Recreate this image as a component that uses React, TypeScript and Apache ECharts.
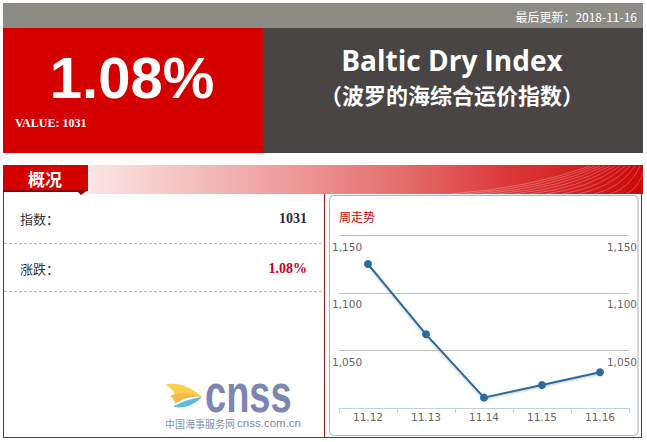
import React, { useEffect, useRef } from "react";
import * as echarts from "echarts";

const categories = ["11.12", "11.13", "11.14", "11.15", "11.16"];
const values = [1125, 1064, 1009, 1020, 1031];
const yMin = 1000;
const yMax = 1150;
const yStep = 50;
const updateText = "最后更新：2018-11-16";
const changeText = "1.08%";
const indexValue = "1031";

echarts.graphic.registerShape(
  "swooshTop",
  echarts.graphic.extendPath("M0,3 C10,-1 26,4 37,15 C28,11 18,10 10,13 C9,9 5,5 0,3 Z", {})
);
echarts.graphic.registerShape(
  "swooshMid",
  echarts.graphic.extendPath("M5,14 C16,9 28,11 37,15 C28,14 18,16 10,22 C10,19 8,16 5,14 Z", {})
);
echarts.graphic.registerShape(
  "swooshLow",
  echarts.graphic.extendPath("M9,24 C20,18 30,16 37,15 C30,22 20,27 9,25 Z", {})
);

const cjk = '"Noto Sans CJK SC", sans-serif';

export default function App() {
  const ref = useRef<HTMLDivElement>(null);
  useEffect(() => {
    if (!ref.current) return;
    const chart = echarts.init(ref.current, null, { renderer: "svg" });
    const stripes: any[] = [];
    for (let i = 0; i < 12; i++) {
      stripes.push({
        type: "bezierCurve",
        silent: true,
        shape: {
          x1: 450 + i * 16,
          y1: 194,
          cpx1: 530 + i * 10,
          cpy1: 188,
          x2: 590 + i * 5,
          y2: 166,
        },
        style: { stroke: "rgba(255,255,255,0.3)", lineWidth: 0.8, fill: null },
      });
    }
    const option: any = {
      animation: false,
      backgroundColor: "#ffffff",
      graphic: {
        elements: [
          { type: "rect", shape: { x: 3, y: 3, width: 640, height: 25 }, style: { fill: "#8c8b86" } },
          {
            type: "text",
            x: 637,
            y: 16,
            style: { text: updateText, fill: "#ffffff", font: `12px ${cjk}`, textAlign: "right", textVerticalAlign: "middle" },
          },
          { type: "rect", shape: { x: 3, y: 28, width: 260, height: 125 }, style: { fill: "#d40000" } },
          { type: "rect", shape: { x: 263, y: 28, width: 380, height: 125 }, style: { fill: "#484544" } },
          {
            type: "text",
            x: 132,
            y: 77,
            style: { text: changeText, fill: "#ffffff", font: 'bold 58px "Liberation Sans", Arial, sans-serif', textAlign: "center", textVerticalAlign: "middle" },
          },
          {
            type: "text",
            x: 15,
            y: 123,
            style: { text: "VALUE: " + indexValue, fill: "#ffffff", font: 'bold 12px "Liberation Serif", serif', textAlign: "left", textVerticalAlign: "middle" },
          },
          {
            type: "text",
            x: 452,
            y: 60,
            style: { text: "Baltic Dry Index", fill: "#ffffff", font: 'bold 28px "Open Sans", sans-serif', textAlign: "center", textVerticalAlign: "middle" },
          },
          {
            type: "text",
            x: 452,
            y: 94,
            style: { text: "（波罗的海综合运价指数）", fill: "#ffffff", font: `bold 22px ${cjk}`, textAlign: "center", textVerticalAlign: "middle" },
          },
          {
            type: "rect",
            shape: { x: 88, y: 165, width: 555, height: 29 },
            style: {
              fill: new echarts.graphic.LinearGradient(0, 0, 1, 0, [
                { offset: 0, color: "#fbe6e6" },
                { offset: 0.3, color: "#f0a8a8" },
                { offset: 0.55, color: "#e57272" },
                { offset: 0.75, color: "#db3a3a" },
                { offset: 1, color: "#cc0a0a" },
              ]),
            },
          },
          ...stripes,
          { type: "rect", shape: { x: 3, y: 165, width: 85, height: 26 }, style: { fill: "#d40000" } },
          {
            type: "polygon",
            shape: { points: [[3, 190], [88, 190], [81, 195], [78, 192], [3, 192]] },
            style: { fill: "#8e0000" },
          },
          {
            type: "text",
            x: 45,
            y: 178,
            style: { text: "概况", fill: "#ffffff", font: `bold 17px ${cjk}`, textAlign: "center", textVerticalAlign: "middle" },
          },
          { type: "line", shape: { x1: 3.5, y1: 192, x2: 3.5, y2: 438 }, style: { stroke: "#a11a1a", lineWidth: 1 } },
          { type: "line", shape: { x1: 324.5, y1: 194, x2: 324.5, y2: 438 }, style: { stroke: "#a11a1a", lineWidth: 1 } },
          { type: "line", shape: { x1: 641.5, y1: 194, x2: 641.5, y2: 438 }, style: { stroke: "#a11a1a", lineWidth: 1 } },
          { type: "line", shape: { x1: 3, y1: 437.5, x2: 642, y2: 437.5 }, style: { stroke: "#a11a1a", lineWidth: 1 } },
          {
            type: "rect",
            shape: { x: 329.5, y: 195.5, width: 308.5, height: 240, r: 4 },
            style: { fill: "#ffffff", stroke: "#a9b3c2", lineWidth: 1 },
            z: -1,
          },
          {
            type: "text",
            x: 20,
            y: 218,
            style: { text: "指数：", fill: "#333333", font: `13px ${cjk}`, textAlign: "left", textVerticalAlign: "middle" },
          },
          {
            type: "text",
            x: 307,
            y: 218,
            style: { text: indexValue, fill: "#2b2b3b", font: 'bold 14px "Liberation Serif", serif', textAlign: "right", textVerticalAlign: "middle" },
          },
          { type: "line", shape: { x1: 4, y1: 243.5, x2: 324, y2: 243.5 }, style: { stroke: "#bbbbbb", lineWidth: 1, lineDash: [3, 2] } },
          {
            type: "text",
            x: 20,
            y: 268,
            style: { text: "涨跌：", fill: "#333333", font: `13px ${cjk}`, textAlign: "left", textVerticalAlign: "middle" },
          },
          {
            type: "text",
            x: 307,
            y: 268,
            style: { text: changeText, fill: "#c8001e", font: 'bold 14px "Liberation Serif", serif', textAlign: "right", textVerticalAlign: "middle" },
          },
          { type: "line", shape: { x1: 4, y1: 291.5, x2: 324, y2: 291.5 }, style: { stroke: "#bbbbbb", lineWidth: 1, lineDash: [3, 2] } },
          { type: "swooshTop", x: 165, y: 382, style: { fill: "#f8cf4a" } },
          { type: "swooshMid", x: 165, y: 382, style: { fill: "#f5b13a", opacity: 0.9 } },
          { type: "swooshLow", x: 165, y: 382, style: { fill: "#4db5e2", opacity: 0.9 } },
          {
            type: "text",
            x: 205,
            y: 394,
            scaleX: 0.95,
            scaleY: 1.3,
            style: { text: "cnss", fill: "#7d86b3", font: 'bold 40px "Liberation Sans", Arial, sans-serif', textAlign: "left", textVerticalAlign: "middle" },
          },
          {
            type: "text",
            x: 165,
            y: 423,
            style: { text: "中国海事服务网", fill: "#8a90ac", font: `10px ${cjk}`, textAlign: "left", textVerticalAlign: "middle" },
          },
          {
            type: "text",
            x: 301,
            y: 423,
            style: { text: "cnss.com.cn", fill: "#7d86b3", font: '11.5px "Liberation Sans", Arial, sans-serif', textAlign: "right", textVerticalAlign: "middle" },
          },
          {
            type: "text",
            x: 339,
            y: 216,
            style: { text: "周走势", fill: "#c8000a", font: `12px ${cjk}`, textAlign: "left", textVerticalAlign: "middle" },
          },
        ],
      },
      grid: { left: 339, right: 18, top: 235.3, bottom: 34 },
      xAxis: {
        type: "category",
        data: categories,
        boundaryGap: true,
        axisLine: { lineStyle: { color: "#c0d0e0", width: 1 } },
        axisTick: { show: true, length: 5, lineStyle: { color: "#c0d0e0" } },
        axisLabel: { color: "#666666", fontSize: 10.5, fontFamily: '"DejaVu Sans", sans-serif', margin: 3 },
      },
      yAxis: [
        {
          type: "value",
          min: yMin,
          max: yMax,
          interval: yStep,
          position: "left",
          axisLine: { show: false },
          axisTick: { show: false },
          splitLine: { lineStyle: { color: "#c0c0c0", width: 1 } },
          axisLabel: {
            align: "left",
            margin: 7,
            verticalAlign: "top",
            padding: [6, 0, 0, 0],
            showMinLabel: false,
            color: "#666666",
            fontSize: 10.5,
            fontFamily: '"DejaVu Sans", sans-serif',
            formatter: (v: number) => v.toLocaleString("en-US"),
          },
        },
        {
          type: "value",
          min: yMin,
          max: yMax,
          interval: yStep,
          position: "right",
          axisLine: { show: false },
          axisTick: { show: false },
          splitLine: { show: false },
          axisLabel: {
            align: "right",
            margin: 8,
            verticalAlign: "top",
            padding: [6, 0, 0, 0],
            showMinLabel: false,
            color: "#666666",
            fontSize: 10.5,
            fontFamily: '"DejaVu Sans", sans-serif',
            formatter: (v: number) => v.toLocaleString("en-US"),
          },
        },
      ],
      series: [
        {
          type: "line",
          data: values,
          yAxisIndex: 0,
          symbol: "circle",
          symbolSize: 8,
          itemStyle: { color: "#2c6a9f" },
          lineStyle: { color: "#2c6a9f", width: 2, shadowColor: "rgba(0,0,0,0.25)", shadowBlur: 2, shadowOffsetY: 1 },
        },
      ],
    };
    chart.setOption(option);
    return () => chart.dispose();
  }, []);
  return <div ref={ref} style={{ position: "absolute", left: 0, top: 0, width: 647, height: 442 }} />;
}
